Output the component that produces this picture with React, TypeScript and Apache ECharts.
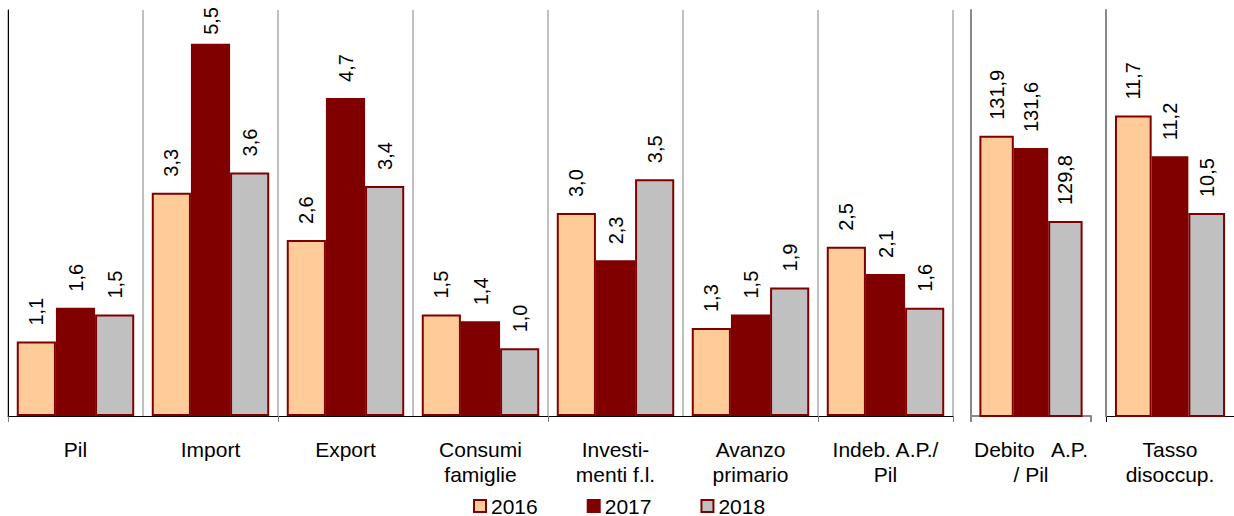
import React, { useEffect, useRef } from "react";
import * as echarts from "echarts";

const years = ["2016", "2017", "2018"];

const mainCategories = [
  "Pil",
  "Import",
  "Export",
  "Consumi\nfamiglie",
  "Investi-\nmenti f.l.",
  "Avanzo\nprimario",
  "Indeb. A.P./\nPil",
];
const main2016 = [1.1, 3.3, 2.6, 1.5, 3.0, 1.3, 2.5];
const main2017 = [1.6, 5.5, 4.7, 1.4, 2.3, 1.5, 2.1];
const main2018 = [1.5, 3.6, 3.4, 1.0, 3.5, 1.9, 1.6];

const debtCategories = ["Debito   A.P.\n/ Pil"];
const debt2016 = [131.9];
const debt2017 = [131.6];
const debt2018 = [129.8];

const unempCategories = ["Tasso\ndisoccup."];
const unemp2016 = [11.7];
const unemp2017 = [11.2];
const unemp2018 = [10.5];

const FONT = "'Liberation Sans', Arial, Helvetica, sans-serif";
const DARK_RED = "#800000";
const yearColors = ["#FFCC99", DARK_RED, "#C0C0C0"];

type Panel = {
  categories: string[];
  series: number[][];
  min: number;
  max: number;
  left: number;
  width: number;
  gap: string;
};

const panels: Panel[] = [
  { categories: mainCategories, series: [main2016, main2017, main2018], min: 0, max: 6, left: 8, width: 945, gap: "13%" },
  { categories: debtCategories, series: [debt2016, debt2017, debt2018], min: 125, max: 135, left: 971, width: 120, gap: "14%" },
  { categories: unempCategories, series: [unemp2016, unemp2017, unemp2018], min: 8, max: 13, left: 1106, width: 135, gap: "14%" },
];

export default function App() {
  const ref = useRef<HTMLDivElement>(null);

  useEffect(() => {
    if (!ref.current) return;
    const chart = echarts.init(ref.current, undefined, { renderer: "svg" });

    const grids = panels.map((p) => ({
      left: p.left,
      top: 10,
      width: p.width,
      height: 406,
      containLabel: false,
    }));

    const xAxes = panels.map((p, i) => ({
      type: "category",
      gridIndex: i,
      data: p.categories,
      axisLine: {
        show: true,
        lineStyle: { color: i === 1 ? "#888888" : "#000000", width: i === 1 ? 2 : 1 },
      },
      axisTick: {
        show: true,
        interval: i === 0 ? 1 : 0,
        length: 6,
        lineStyle: { color: i === 1 ? "#888888" : i === 2 ? "#000000" : "#808080", width: i === 1 ? 2 : 1 },
      },
      splitLine: {
        show: i === 0,
        interval: 0,
        lineStyle: { color: "#C0C0C0", width: 2 },
      },
      axisLabel: {
        interval: 0,
        margin: 21,
        fontSize: 21,
        lineHeight: 25,
        color: "#000000",
        fontFamily: FONT,
      },
      z: 0,
    }));

    const yAxes = panels.map((p, i) => ({
      type: "value",
      gridIndex: i,
      min: p.min,
      max: p.max,
      axisLine: {
        show: true,
        lineStyle: { color: i === 0 ? "#000000" : "#888888", width: i === 0 ? 1 : 2 },
      },
      axisTick: { show: false },
      axisLabel: { show: false },
      splitLine: { show: false },
      z: 3,
    }));

    const series: any[] = [];
    years.forEach((year, yi) => {
      panels.forEach((p, pi) => {
        series.push({
          type: "bar",
          name: year,
          xAxisIndex: pi,
          yAxisIndex: pi,
          barGap: "0%",
          barCategoryGap: p.gap,
          itemStyle: { color: yearColors[yi], borderColor: DARK_RED, borderWidth: 2 },
          label: {
            show: true,
            position: "top",
            rotate: 90,
            align: "left",
            verticalAlign: "middle",
            distance: 16,
            fontSize: 20,
            color: "#000000",
            fontFamily: FONT,
            formatter: (d: any) => Number(d.value).toFixed(1).replace(".", ","),
          },
          data: p.series[yi].map((v) =>
            (v - p.min) / (p.max - p.min) > 0.9 ? { value: v, label: { distance: 9 } } : v
          ),
        });
      });
    });

    chart.setOption({
      animation: false,
      backgroundColor: "#ffffff",
      textStyle: { fontFamily: FONT },
      grid: grids,
      xAxis: xAxes,
      yAxis: yAxes,
      legend: {
        data: years,
        left: 468,
        top: 490,
        icon: "rect",
        itemWidth: 12,
        itemHeight: 12,
        itemGap: 49,
        itemStyle: { borderWidth: 2, borderColor: DARK_RED },
        textStyle: { fontSize: 21, lineHeight: 22, color: "#000000", fontFamily: FONT },
      },
      series,
    });

    return () => chart.dispose();
  }, []);

  return (
    <div
      ref={ref}
      style={{ position: "fixed", left: 0, top: 0, width: 1234, height: 516, background: "#fff" }}
    />
  );
}
